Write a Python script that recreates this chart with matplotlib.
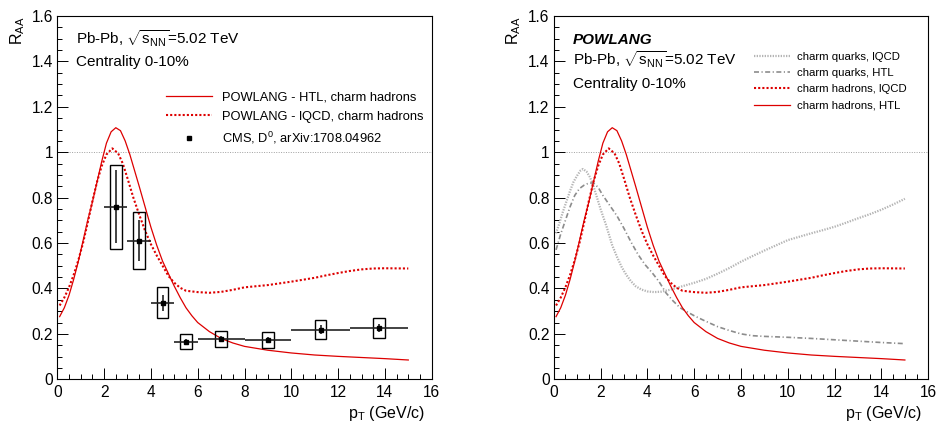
import numpy as np
import matplotlib
matplotlib.use('Agg')
import matplotlib.pyplot as plt
from matplotlib.lines import Line2D
from matplotlib.ticker import MultipleLocator, FuncFormatter

plt.rcParams['font.family'] = ['Liberation Sans', 'DejaVu Sans']
plt.rcParams['mathtext.fontset'] = 'custom'
plt.rcParams['mathtext.rm'] = 'Liberation Sans'
plt.rcParams['mathtext.it'] = 'Liberation Sans:italic'
plt.rcParams['mathtext.bf'] = 'Liberation Sans:bold'

'''Data read off the figure'''
# POWLANG charm hadrons, HTL transport coefficients
htl_had_x = [0.1, 0.3, 0.5, 0.7, 0.9, 1.1, 1.3, 1.5, 1.7, 1.9, 2.1, 2.3, 2.5, 2.7, 2.9,
             3.1, 3.3, 3.5, 3.75, 4.0, 4.25, 4.5, 4.75, 5.0, 5.25, 5.5, 5.75, 6.0, 6.5,
             7.0, 7.5, 8.0, 9.0, 10.0, 11.0, 12.0, 13.0, 14.0, 15.0]
htl_had_y = [0.276, 0.315, 0.37, 0.44, 0.52, 0.61, 0.70, 0.78, 0.87, 0.96, 1.04, 1.09, 1.108,
             1.095, 1.05, 0.99, 0.92, 0.85, 0.76, 0.67, 0.59, 0.52, 0.465, 0.41, 0.36, 0.315,
             0.28, 0.25, 0.21, 0.18, 0.16, 0.145, 0.128, 0.116, 0.107, 0.101, 0.096, 0.091, 0.085]

# POWLANG charm hadrons, lattice QCD transport coefficients
lqcd_had_x = [0.1, 0.3, 0.5, 0.7, 0.9, 1.1, 1.3, 1.5, 1.7, 1.9, 2.1, 2.35, 2.6, 2.8, 3.0,
              3.25, 3.5, 3.75, 4.0, 4.25, 4.5, 4.75, 5.0, 5.25, 5.5, 6.0, 6.5, 7.0, 7.5,
              8.0, 9.0, 10.0, 11.0, 11.5, 12.0, 12.5, 13.0, 13.5, 14.0, 15.0]
lqcd_had_y = [0.325, 0.36, 0.405, 0.46, 0.525, 0.60, 0.69, 0.785, 0.87, 0.94, 0.99, 1.017,
              0.995, 0.95, 0.885, 0.80, 0.725, 0.655, 0.595, 0.545, 0.50, 0.455, 0.425, 0.403,
              0.39, 0.384, 0.381, 0.385, 0.394, 0.405, 0.415, 0.43, 0.447, 0.458, 0.468,
              0.477, 0.484, 0.488, 0.489, 0.488]

# charm quarks, lQCD
lqcd_q_x = [0.1, 0.25, 0.4, 0.55, 0.7, 0.85, 1.0, 1.15, 1.25, 1.4, 1.55, 1.7, 1.85, 2.0,
            2.25, 2.5, 2.7, 2.9, 3.1, 3.3, 3.5, 3.75, 4.0, 4.3, 4.6, 5.0, 5.5, 6.0, 6.5,
            7.0, 7.5, 8.0, 8.5, 9.0, 9.5, 10.0, 10.5, 11.0, 11.5, 12.0, 12.5, 13.0, 13.5,
            14.0, 14.5, 15.0]
lqcd_q_y = [0.643, 0.69, 0.74, 0.785, 0.83, 0.87, 0.897, 0.92, 0.926, 0.915, 0.89, 0.85,
            0.80, 0.75, 0.675, 0.59, 0.54, 0.495, 0.46, 0.432, 0.41, 0.395, 0.387, 0.384,
            0.386, 0.395, 0.41, 0.425, 0.442, 0.465, 0.49, 0.518, 0.543, 0.567, 0.59,
            0.613, 0.628, 0.643, 0.657, 0.672, 0.69, 0.709, 0.727, 0.747, 0.77, 0.795]

# charm quarks, HTL
htl_q_x = [0.1, 0.3, 0.5, 0.7, 0.9, 1.1, 1.3, 1.5, 1.7, 1.9, 2.1, 2.4, 2.7, 3.0, 3.3,
           3.6, 3.9, 4.2, 4.5, 4.8, 5.1, 5.4, 5.7, 6.0, 6.4, 7.0, 7.5, 8.0, 8.5, 9.0,
           10.0, 11.0, 12.0, 13.0, 14.0, 15.0]
htl_q_y = [0.57, 0.64, 0.70, 0.76, 0.81, 0.84, 0.855, 0.864, 0.865, 0.845, 0.81, 0.765,
           0.72, 0.665, 0.605, 0.55, 0.505, 0.47, 0.43, 0.38, 0.345, 0.315, 0.297, 0.28,
           0.26, 0.232, 0.215, 0.2, 0.192, 0.189, 0.185, 0.18, 0.174, 0.168, 0.162, 0.157]

# CMS D0 data, arXiv:1708.04962
cms_x = [2.5, 3.5, 4.5, 5.5, 7.0, 9.0, 11.25, 13.75]
cms_xerr = [0.5, 0.5, 0.5, 0.5, 1.0, 1.0, 1.25, 1.25]
cms_y = [0.76, 0.61, 0.337, 0.166, 0.178, 0.174, 0.219, 0.225]
cms_stat = [0.16, 0.09, 0.034, 0.012, 0.012, 0.012, 0.018, 0.018]
cms_sys = [0.185, 0.125, 0.068, 0.034, 0.036, 0.036, 0.042, 0.043]

red = '#dd0000'
lightgrey = '#b4b4b4'
grey = '#8c8c8c'


def style(ax):
    ax.set_xlim(0, 16)
    ax.set_ylim(0, 1.6)
    ax.xaxis.set_major_locator(MultipleLocator(2))
    ax.xaxis.set_minor_locator(MultipleLocator(0.5))
    ax.yaxis.set_major_locator(MultipleLocator(0.2))
    ax.yaxis.set_minor_locator(MultipleLocator(0.05))
    fmt = FuncFormatter(lambda v, p: '%g' % round(v, 2))
    ax.xaxis.set_major_formatter(fmt)
    ax.yaxis.set_major_formatter(fmt)
    ax.tick_params(which='both', direction='in', top=False, right=False, width=0.7, labelsize=11.2)
    ax.tick_params(which='major', length=7.9)
    ax.tick_params(which='minor', length=3.9)
    ax.tick_params(axis='x', pad=4.0)
    ax.tick_params(axis='y', pad=3.0)
    for s in ax.spines.values():
        s.set_linewidth(0.8)
    ax.axhline(1.0, color='#a0a0a0', lw=0.7, linestyle=(0, (1, 1.5)), zorder=1)
    ax.text(0.983, -0.107, r'p$_{\mathrm{T}}$ (GeV/c)', transform=ax.transAxes,
            ha='right', va='baseline', fontsize=11.5)
    ax.text(-0.107, 1.0, r'R$_{\mathrm{AA}}$', transform=ax.transAxes, rotation=90,
            ha='center', va='top', fontsize=11.5)


fig = plt.figure(figsize=(9.36, 4.23), dpi=100)
axL = fig.add_axes([57.3 / 936, 43.7 / 423, 374.4 / 936, 363.3 / 423])
axR = fig.add_axes([553.7 / 936, 43.7 / 423, 374.6 / 936, 363.3 / 423])

'''Left panel: model vs CMS'''
style(axL)
axL.plot(htl_had_x, htl_had_y, color=red, lw=0.9, zorder=3)
axL.plot(lqcd_had_x, lqcd_had_y, color=red, lw=1.5, linestyle=(0, (1, 1)), zorder=3)
sys_lo = np.array(cms_y) - np.array(cms_sys)
axL.bar(cms_x, 2 * np.array(cms_sys), bottom=sys_lo, width=0.5, fill=False,
        edgecolor='black', linewidth=1.0, zorder=4)
axL.errorbar(cms_x, cms_y, xerr=cms_xerr, yerr=cms_stat, fmt='s', color='black',
             ecolor='#222222', elinewidth=1.2, capsize=0, markersize=3.3, zorder=5)

axL.text(0.05, 0.923, r'Pb-Pb, $\sqrt{\mathrm{s_{NN}}}$=5.02 TeV', transform=axL.transAxes,
         fontsize=11, va='baseline')
axL.text(0.05, 0.862, 'Centrality 0-10%', transform=axL.transAxes, fontsize=11, va='baseline')

h_left = [Line2D([], [], color=red, lw=0.9),
          Line2D([], [], color=red, lw=1.5, linestyle=(0, (1, 1))),
          Line2D([], [], color='black', marker='s', linestyle='none', markersize=3.3)]
l_left = ['POWLANG - HTL, charm hadrons', 'POWLANG - lQCD, charm hadrons',
          r'CMS, D$^{0}$, arXiv:1708.04962']
axL.legend(h_left, l_left, loc='upper left', bbox_to_anchor=(0.29, 0.791), frameon=False,
           fontsize=9.25, handlelength=3.58, handletextpad=0.8, labelspacing=0.54,
           borderpad=0, borderaxespad=0)

'''Right panel: quarks vs hadrons'''
style(axR)
axR.plot(lqcd_q_x, lqcd_q_y, color=lightgrey, lw=1.6, linestyle=(0, (0.6, 0.6)), zorder=2)
axR.plot(htl_q_x, htl_q_y, color=grey, lw=1.2, linestyle=(0, (3.0, 1.5, 0.7, 1.5)), zorder=2)
axR.plot(lqcd_had_x, lqcd_had_y, color=red, lw=1.5, linestyle=(0, (1, 1)), zorder=3)
axR.plot(htl_had_x, htl_had_y, color=red, lw=0.9, zorder=3)

axR.text(0.0515, 0.923, 'POWLANG', transform=axR.transAxes, fontsize=11,
         fontweight='bold', fontstyle='italic', va='baseline')
axR.text(0.0515, 0.865, r'Pb-Pb, $\sqrt{\mathrm{s_{NN}}}$=5.02 TeV', transform=axR.transAxes,
         fontsize=11, va='baseline')
axR.text(0.0515, 0.801, 'Centrality 0-10%', transform=axR.transAxes, fontsize=11, va='baseline')

h_right = [Line2D([], [], color=lightgrey, lw=1.6, linestyle=(0, (0.6, 0.6))),
           Line2D([], [], color=grey, lw=1.2, linestyle=(0, (3.0, 1.5, 0.7, 1.5))),
           Line2D([], [], color=red, lw=1.5, linestyle=(0, (1, 1))),
           Line2D([], [], color=red, lw=0.9)]
l_right = ['charm quarks, lQCD', 'charm quarks, HTL', 'charm hadrons, lQCD', 'charm hadrons, HTL']
axR.legend(h_right, l_right, loc='upper left', bbox_to_anchor=(0.535, 0.902), frameon=False,
           fontsize=8.2, handlelength=3.16, handletextpad=0.64, labelspacing=0.56,
           borderpad=0, borderaxespad=0)

fig.savefig('out.png', dpi=100)
